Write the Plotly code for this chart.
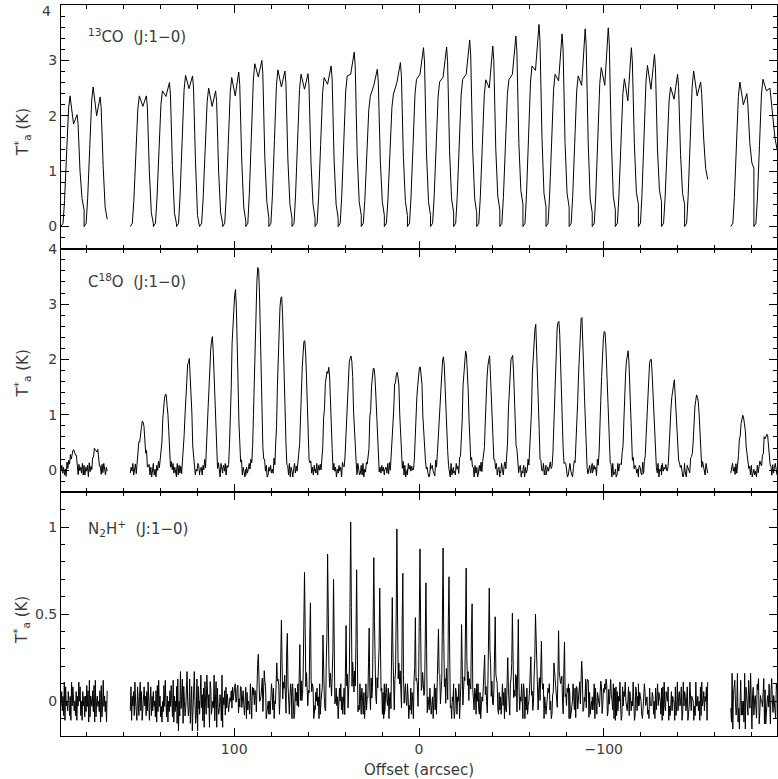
import plotly.graph_objects as go
from plotly.subplots import make_subplots

# ---------------- data ----------------
# spectrum positions along the cut (arcsec); 162.5 and -162.5 are missing
offsets = [187.5, 175.0, 150.0, 137.5, 125.0, 112.5, 100.0, 87.5, 75.0, 62.5, 50.0,
           37.5, 25.0, 12.5, 0.0, -12.5, -25.0, -37.5, -50.0, -62.5, -75.0, -87.5,
           -100.0, -112.5, -125.0, -137.5, -150.0, -175.0, -187.5]
STRIP = 12.5

# 13CO (J:1-0): blue top, central dip, red peak, and three tail levels (K)
co13_blue = [2.36, 2.52, 2.36, 2.45, 2.73, 2.50, 2.69, 2.94, 2.83, 2.75, 2.69, 2.72, 2.35, 2.39,
             2.66, 2.61, 2.66, 2.65, 2.65, 2.90, 2.75, 2.72, 2.87, 2.67, 2.91, 2.52, 2.81, 2.61, 2.66]
co13_dip = [1.85, 2.00, 2.17, 2.35, 2.49, 2.17, 2.36, 2.70, 2.52, 2.48, 2.57, 2.75, 2.55, 2.60,
            2.75, 2.70, 2.75, 2.50, 2.75, 2.82, 2.63, 2.55, 2.55, 2.27, 2.48, 2.30, 2.36, 2.20, 2.45]
co13_red = [2.02, 2.34, 2.36, 2.60, 2.72, 2.45, 2.79, 3.00, 2.81, 2.76, 2.90, 3.15, 2.84, 2.96,
            3.23, 3.24, 3.37, 3.26, 3.44, 3.65, 3.48, 3.57, 3.59, 3.23, 3.11, 2.75, 2.61, 2.40, 2.50]
co13_fall = [1.00, 1.10, 1.00, 1.10, 1.15, 1.00, 1.20, 1.25, 1.20, 1.15, 1.20, 1.30, 1.20, 1.25,
             1.33, 1.35, 1.40, 1.40, 1.50, 1.60, 1.50, 1.55, 1.60, 1.50, 1.40, 1.30, 1.60, 1.50, 2.00]
co13_tail = [0.50, 0.35, 0.25, 0.25, 0.20, 0.25, 0.35, 0.45, 0.40, 0.40, 0.40, 0.45, 0.45, 0.45,
             0.45, 0.50, 0.50, 0.55, 0.65, 0.60, 0.60, 0.50, 0.55, 0.62, 0.65, 0.60, 1.05, 1.15, 1.60]
co13_end = [0.30, 0.13, 0.05, 0.05, 0.00, 0.05, 0.10, 0.15, 0.15, 0.15, 0.15, 0.20, 0.20, 0.20,
            0.20, 0.25, 0.25, 0.30, 0.40, 0.35, 0.35, 0.25, 0.30, 0.40, 0.45, 0.40, 0.85, 1.05, 1.40]
# keypoint positions inside a strip (fraction of strip width, left to right on the page)
co13_u = [-0.5, -0.411, -0.346, -0.259, -0.173, -0.108, 0.043, 0.195, 0.238, 0.324, 0.411, 0.5]
co13_rise = [0.0, 0.06, 0.2, 0.55, 0.9]   # rise, as fraction of blue top (first two absolute K)

# C18O (J:1-0): peak and red shoulder (K)
c18o_peak = [0.35, 0.38, 0.85, 1.38, 2.00, 2.36, 3.28, 3.68, 3.15, 2.32, 1.80, 2.08, 1.82, 1.75,
             1.88, 2.03, 2.14, 2.05, 2.09, 2.58, 2.74, 2.74, 2.54, 2.14, 2.02, 1.58, 1.37, 0.96, 0.63]
c18o_shoulder = [0.0, 0.0, 0.1, 0.1, 0.15, 0.2, 0.2, 0.2, 0.2, 0.25, 0.55, 0.35, 0.3, 0.4,
                 0.4, 0.25, 0.1, 0.0, 0.0, 0.1, 0.15, 0.15, 0.15, 0.1, 0.1, 0.1, 0.1, 0.1, 0.1]
c18o_line = [0, 0, 0, 0, 0, 0.01, 0.03, 0.07, 0.14, 0.26, 0.46, 0.66, 0.82, 0.93, 0.98, 1.0,
             0.85, 0.62, 0.42, 0.24, 0.12, 0.05, 0.02, 0, 0, 0, 0, 0]
c18o_wing = [0, 0, 0, 0, 0, 0, 0, 0, 0, 0, 0, 0, 0, 0, 0, 0, 0.5, 1.0, 0.7, 0.3, 0.1, 0, 0, 0, 0, 0, 0, 0]
c18o_noise = [
    "4736251847362455468517463827", "5264718352647543652417385264",
    "3648257164835465541835726148", "6251748362157554366517483621",
    "4827361548723645457236154872", "3562748153627456545362741853",
    "5748263157482534651574826315", "2635847126358463452635847126",
    "6473528164735554636473528164", "4158362741583365547415836274",
    "5382746153827453655382746153", "3746185237461544563746185237",
    "6281537462815465436281537462", "4563827145638355464563827145",
    "2857463128574654342857463128", "5674318256743445655674318256",
    "3428561734285563453428561734", "6137482561374455466137482561",
    "4385267143852644534385267143", "5716348257163356455716348257",
    "2564783125647543652564783125", "6842157368421465546842157368",
    "3475618234756553463475618234", "5128476351284435655128476351",
    "4763281547632654454763281547", "2846573128465546342846573128",
    "6317542863175453566317542863", "3584627135846564453584627135",
    "5241736852417445635241736852"]

# N2H+ (J:1-0): three hyperfine groups (K)
n2hp_low = [0, 0, 0, 0, 0, 0, 0, 0.10, 0.22, 0.35, 0.38, 0.46, 0.42, 0.62,
            0.48, 0.44, 0.44, 0.29, 0.25, 0.28, 0.22, 0.10, 0.05, 0, 0, 0, 0, 0, 0]
n2hp_main = [0, 0, 0, 0, 0, 0, 0.12, 0.27, 0.49, 0.74, 0.87, 1.03, 0.85, 0.99,
             0.90, 0.88, 0.79, 0.65, 0.53, 0.50, 0.43, 0.23, 0.15, 0, 0, 0, 0, 0, 0]
n2hp_high = [0, 0, 0, 0, 0, 0, 0.08, 0.20, 0.39, 0.59, 0.70, 0.78, 0.65, 0.76,
             0.68, 0.74, 0.56, 0.51, 0.47, 0.37, 0.34, 0.15, 0.10, 0, 0, 0, 0, 0, 0]
n2hp_noise_scale = [1.1, 1.2, 1.1, 1.2, 1.7, 1.5, 0.8, 1.0, 1.0, 1.0, 1.0, 1.0, 1.0, 1.0,
                    1.0, 1.0, 1.0, 1.0, 1.0, 1.0, 1.0, 1.0, 1.0, 1.1, 1.0, 1.1, 1.1, 1.6, 1.3]
n2hp_tl = [0] * 10 + [0.05, 0.35, 1.0, 0.3, 0.12, 0.08] + [0] * 20
n2hp_tm = [0] * 16 + [0.05, 0.15, 0.5, 1.0, 0.45, 0.18, 0.12, 0.1, 0.1, 0.12] + [0] * 10
n2hp_tr = [0] * 26 + [0.08, 0.55, 1.0, 0.3, 0.05] + [0] * 5
n2hp_noise = [
    "473629184537526194843527164958251746", "526384719265473819256453718249463517",
    "381647295318526937145846273951582637", "645271839462415384952615374842916354",
    "728153946827534695348247156952381745", "359462718539446187355492681743465291",
    "264819375246583957642489153752684159", "817354296185437629851345792647813452",
    "452697381546579813445276931854526971", "693128574936418457659382145743698124",
    "375846192573564219345748629157358461", "148593627814439276858195376248143952",
    "586271493658521943548621749355682719", "237954816723494186657395841642379548",
    "961438275196548725346148325759164385", "724615938274469385754261953847241659",
    "413872659143582695441382756951438729", "859327146589437416855937216445893274",
    "362594718326554187346254981753265941", "597163824579436248559731684245791632",
    "246879351264597531244678931552648791", "871245963817425693857125493648172453",
    "635918427653598247435981274565539187", "182736594128476954358276354941287364",
    "947652138974562318444762518359476528", "518294376581424736551824936745812946",
    "763581249736551429446351829457365819", "429167853492416835352917653844921673",
    "356428791365548917145648217953654287"]

# tick values / labels of the top panel (its "4" is placed by hand so it is not cut)
top_tickvals = [0, 1, 2, 3, 4]
top_ticktext = ["0", "1", "2", "3", ""]

# ---------------- build traces ----------------
def channel_x(off, n):
    return [off + STRIP / 2 - STRIP * j / (n - 1) for j in range(n)]

def append_strip(xs, ys, i, xl, yl):
    if i > 0 and abs(offsets[i - 1] - offsets[i]) > STRIP * 1.01:
        xs.append(None)
        ys.append(None)
    xs.extend(xl)
    ys.extend(yl)

co_x, co_y = [], []
for i, off in enumerate(offsets):
    A = co13_blue[i]
    xl = [off - u * STRIP for u in co13_u]
    yl = [co13_rise[0], co13_rise[1], co13_rise[2] * A, co13_rise[3] * A, co13_rise[4] * A,
          A, co13_dip[i], co13_red[i], 0.92 * co13_red[i], co13_fall[i], co13_tail[i], co13_end[i]]
    append_strip(co_x, co_y, i, xl, yl)

c18_x, c18_y = [], []
for i, off in enumerate(offsets):
    row = c18o_noise[i]
    n = len(row)
    yl = [(int(row[j]) - 4.5) * 0.035 + c18o_peak[i] * c18o_line[j] + c18o_shoulder[i] * c18o_wing[j]
          for j in range(n)]
    append_strip(c18_x, c18_y, i, channel_x(off, n), yl)

n2_x, n2_y = [], []
for i, off in enumerate(offsets):
    row = n2hp_noise[i]
    n = len(row)
    yl = [(int(row[j]) - 5) * 0.025 * n2hp_noise_scale[i] + n2hp_low[i] * n2hp_tl[j]
          + n2hp_main[i] * n2hp_tm[j] + n2hp_high[i] * n2hp_tr[j] for j in range(n)]
    append_strip(n2_x, n2_y, i, channel_x(off, n), yl)

# ---------------- figure ----------------
fig = make_subplots(rows=3, cols=1, shared_xaxes=True, vertical_spacing=0)
line = dict(color="black", width=1)
fig.add_trace(go.Scatter(x=co_x, y=co_y, mode="lines", line=line, showlegend=False), row=1, col=1)
fig.add_trace(go.Scatter(x=c18_x, y=c18_y, mode="lines", line=line, showlegend=False), row=2, col=1)
fig.add_trace(go.Scatter(x=n2_x, y=n2_y, mode="lines", line=line, showlegend=False), row=3, col=1)

TXT = "#3a3a3a"
FONT = "DejaVu Sans"
axis_common = dict(showline=True, linecolor="black", linewidth=1, mirror="ticks",
                   ticks="inside", ticklen=8, tickcolor="black", tickwidth=1,
                   showgrid=False, zeroline=False, automargin=False,
                   ticklabeloverflow="allow",
                   tickfont=dict(family=FONT, size=14, color=TXT))

for r in (1, 2, 3):
    fig.update_xaxes(range=[193.75, -193.75], dtick=100, tick0=0,
                     minor=dict(ticks="inside", dtick=20, ticklen=4, tickcolor="black"),
                     showticklabels=(r == 3), row=r, col=1, **axis_common)
fig.update_yaxes(range=[-0.4, 4.001], tickmode="array", tickvals=top_tickvals,
                 ticktext=top_ticktext,
                 minor=dict(ticks="inside", dtick=0.2, tick0=0, ticklen=4, tickcolor="black"),
                 row=1, col=1, **axis_common)
fig.update_yaxes(range=[-0.4, 4.001], dtick=1, tick0=0,
                 minor=dict(ticks="inside", dtick=0.2, ticklen=4, tickcolor="black"),
                 row=2, col=1, **axis_common)
fig.update_yaxes(range=[-0.2, 1.2], dtick=0.5, tick0=0,
                 minor=dict(ticks="inside", dtick=0.1, ticklen=4, tickcolor="black"),
                 row=3, col=1, **axis_common)

# top "4" label, kept inside the page
fig.add_annotation(text="4", xref="paper", yref="paper", x=-0.0105, y=1.0, yshift=4,
                   xanchor="right", yanchor="top", showarrow=False,
                   font=dict(family=FONT, size=14, color=TXT))

labels = [("<sup>13</sup>CO  (J:1\u22120)", 0.9576),
          ("C<sup>18</sup>O  (J:1\u22120)", 0.6224),
          ("N<sub>2</sub>H<sup>+</sup>  (J:1\u22120)", 0.2845)]
for txt, y in labels:
    fig.add_annotation(text=txt, xref="paper", yref="paper", x=0.0349, y=y,
                       xanchor="left", yanchor="middle", showarrow=False,
                       font=dict(family=FONT, size=15, color=TXT))
for y in (0.826, 0.496, 0.1587):
    fig.add_annotation(text="T<sup>*</sup><sub>a</sub> (K)", xref="paper", yref="paper",
                       x=-0.0545, y=y, xanchor="center", yanchor="middle", textangle=-90,
                       showarrow=False, font=dict(family=FONT, size=15, color=TXT))
fig.add_annotation(text="Offset (arcsec)", xref="paper", yref="paper", x=0.5, y=-0.0465,
                   xanchor="center", yanchor="middle", showarrow=False,
                   font=dict(family=FONT, size=15, color=TXT))

fig.update_layout(width=778, height=779, margin=dict(l=61, r=1, t=5, b=43, autoexpand=False),
                  paper_bgcolor="white", plot_bgcolor="white")
fig.write_html("out.html", config={"displayModeBar": False},
               post_script="document.body.style.margin='0';document.body.style.overflow='hidden';")
